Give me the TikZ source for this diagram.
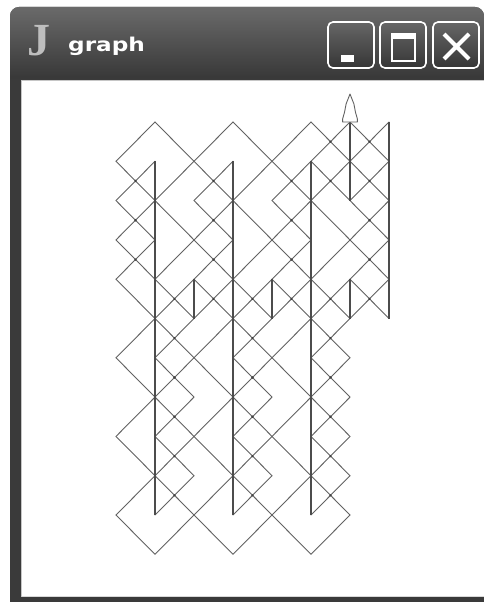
\documentclass[tikz,border=0pt]{standalone}
\usepackage{fontspec}
\newfontfamily\titlefont{DejaVu Sans}
\newfontfamily\jfont{Liberation Serif}
\definecolor{ln}{HTML}{626262}
\definecolor{vl}{HTML}{4C4C4C}
\definecolor{dotc}{HTML}{404040}
\definecolor{frame}{HTML}{3A3A3A}
\definecolor{tbtop}{HTML}{6A6A6A}
\definecolor{tbbot}{HTML}{383838}
\definecolor{btop}{HTML}{666666}
\definecolor{bbot}{HTML}{363636}
\definecolor{jgray}{HTML}{BEBEBE}
\tikzset{
  diag/.style={draw=ln, line width=0.9pt, line cap=round, line join=round},
  vert/.style={draw=vl, line width=1.9pt},
  winbtn/.style={draw=white, line width=1.6pt, rounded corners=5pt, top color=btop, bottom color=bbot},
  xdot/.style={fill=dotc}
}
\begin{document}
\begin{tikzpicture}[x=1pt,y=-1pt]
\useasboundingbox (0,0) rectangle (484,602);
\fill[white] (0,0) rectangle (484,602);
% window frame
\fill[frame] (10,602) [rounded corners=9pt]-- (10,7) -- (484,7) [sharp corners]-- (484,602) -- cycle;
\shade[top color=tbtop, bottom color=tbbot] (10,78) [rounded corners=9pt]-- (10,7) -- (484,7) [sharp corners]-- (484,78) -- cycle;
% client area
\fill[white] (22,81) rectangle (484,596);
\draw[gray!45, line width=1pt] (21.5,596.5) -- (21.5,80.5) -- (484,80.5);
\draw[gray!30, line width=1pt] (21.5,596.5) -- (484,596.5);
% title icon and text
\node[anchor=base west, inner sep=0, text=jgray, font=\jfont\bfseries\fontsize{46}{46}\selectfont] (jicon) at (27,56) {J};
\node[anchor=base west, inner sep=0, text=white, font=\titlefont\bfseries\fontsize{19}{19}\selectfont] (title) at (68,52) {\scalebox{1.22}[1]{graph}};
% buttons
\path[winbtn] (328,22) rectangle ++(46,46);
\path[winbtn] (380,22) rectangle ++(46,46);
\path[winbtn] (433,22) rectangle ++(46,46);
\fill[white] (341,55) rectangle (354,62);
\draw[white, line width=2.2pt] (392,35) rectangle (415,61);
\fill[white] (391,33) rectangle (416,39);
\draw[white, line width=4pt] (444,34) -- (469,59) (469,34) -- (444,59);
% the graph
\begin{scope}[shift={(116,122)}, x=19.5pt, y=-19.65pt]
% upper diagonals
\draw[diag] (0,2)--(2,0);
\draw[diag] (2,0)--(10,8);
\draw[diag] (0,2)--(6,8);
\draw[diag] (6,0)--(0,6);
\draw[diag] (6,0)--(14,8);
\draw[diag] (10,0)--(2,8);
\draw[diag] (10,0)--(14,4);
\draw[diag] (12,0)--(8,4);
\draw[diag] (12,0)--(14,2);
\draw[diag] (14,0)--(6,8);
\draw[diag] (14,2)--(12,4);
\draw[diag] (10,2)--(12,4);
\draw[diag] (12,4)--(14,6);
\draw[diag] (14,4)--(10,8);
\draw[diag] (14,6)--(12,8);
\draw[diag] (12,8)--(14,10);
\draw[diag] (14,8)--(12,10);
\draw[diag] (2,2)--(0,4);
\draw[diag] (6,2)--(4,4);
\draw[diag] (0,4)--(2,6)--(0,8);
\draw[diag] (4,4)--(6,6)--(4,8);
\draw[diag] (8,4)--(10,6)--(8,8);
\draw[diag] (0,6)--(2,8);
\draw[diag] (0,8)--(4,12);
\draw[diag] (4,8)--(8,12);
\draw[diag] (8,8)--(12,12);
\draw[diag] (4,8)--(0,12);
\draw[diag] (8,8)--(4,12);
\draw[diag] (12,8)--(8,12);
\draw[diag] (2,8)--(4,10) (6,8)--(8,10) (10,8)--(12,10);
\draw[diag] (4,10)--(6,8) (8,10)--(10,8);
\draw[diag] (4,10)--(2,12) (8,10)--(6,12) (12,10)--(10,12);
% lower part, one column motif repeated
\foreach \L in {0,4,8}{
  \draw[diag] (\L+2,12)--(\L+4,14);
  \draw[diag] (\L,12)--(\L+4,16);
  \draw[diag] (\L+4,12)--(\L,16);
  \draw[diag] (\L+4,14)--(\L+2,16);
  \draw[diag] (\L,16)--(\L+4,20);
  \draw[diag] (\L+2,16)--(\L+4,18);
  \draw[diag] (\L+4,16)--(\L,20);
  \draw[diag] (\L+4,18)--(\L+2,20);
  \draw[diag] (\L,20)--(\L+2,22)--(\L+4,20);
}
% verticals
\draw[vert] (2,2)--(2,20) (6,2)--(6,20) (10,2)--(10,20);
\draw[vert] (12,0)--(12,4) (14,0)--(14,10);
\draw[vert] (4,8)--(4,10) (8,8)--(8,10) (12,8)--(12,10);
% arrow head
\draw[diag, fill=white] (12,-1.425) -- (12.2,-0.92) -- (12.28,-0.5) -- (12.38,-0.15) -- (12.38,0) -- (11.62,0) -- (11.62,-0.15) -- (11.72,-0.5) -- (11.8,-0.92) -- cycle;
% crossing dots
\foreach \p in {(1,3),(5,3),(9,3),(11,3),(13,3),(11,1),(13,1),(1,5),(5,5),(9,5),(13,5),(1,7),(5,7),(9,7),(13,7),(3,9),(5,9),(7,9),(9,9),(11,9),(13,9)}
  \fill[xdot] \p circle (1.3pt);
\foreach \k in {3,7,11}{
  \foreach \j in {11,13,15,17,19}
    \fill[xdot] (\k,\j) circle (1.3pt);
}
\end{scope}
\end{tikzpicture}
\end{document}
